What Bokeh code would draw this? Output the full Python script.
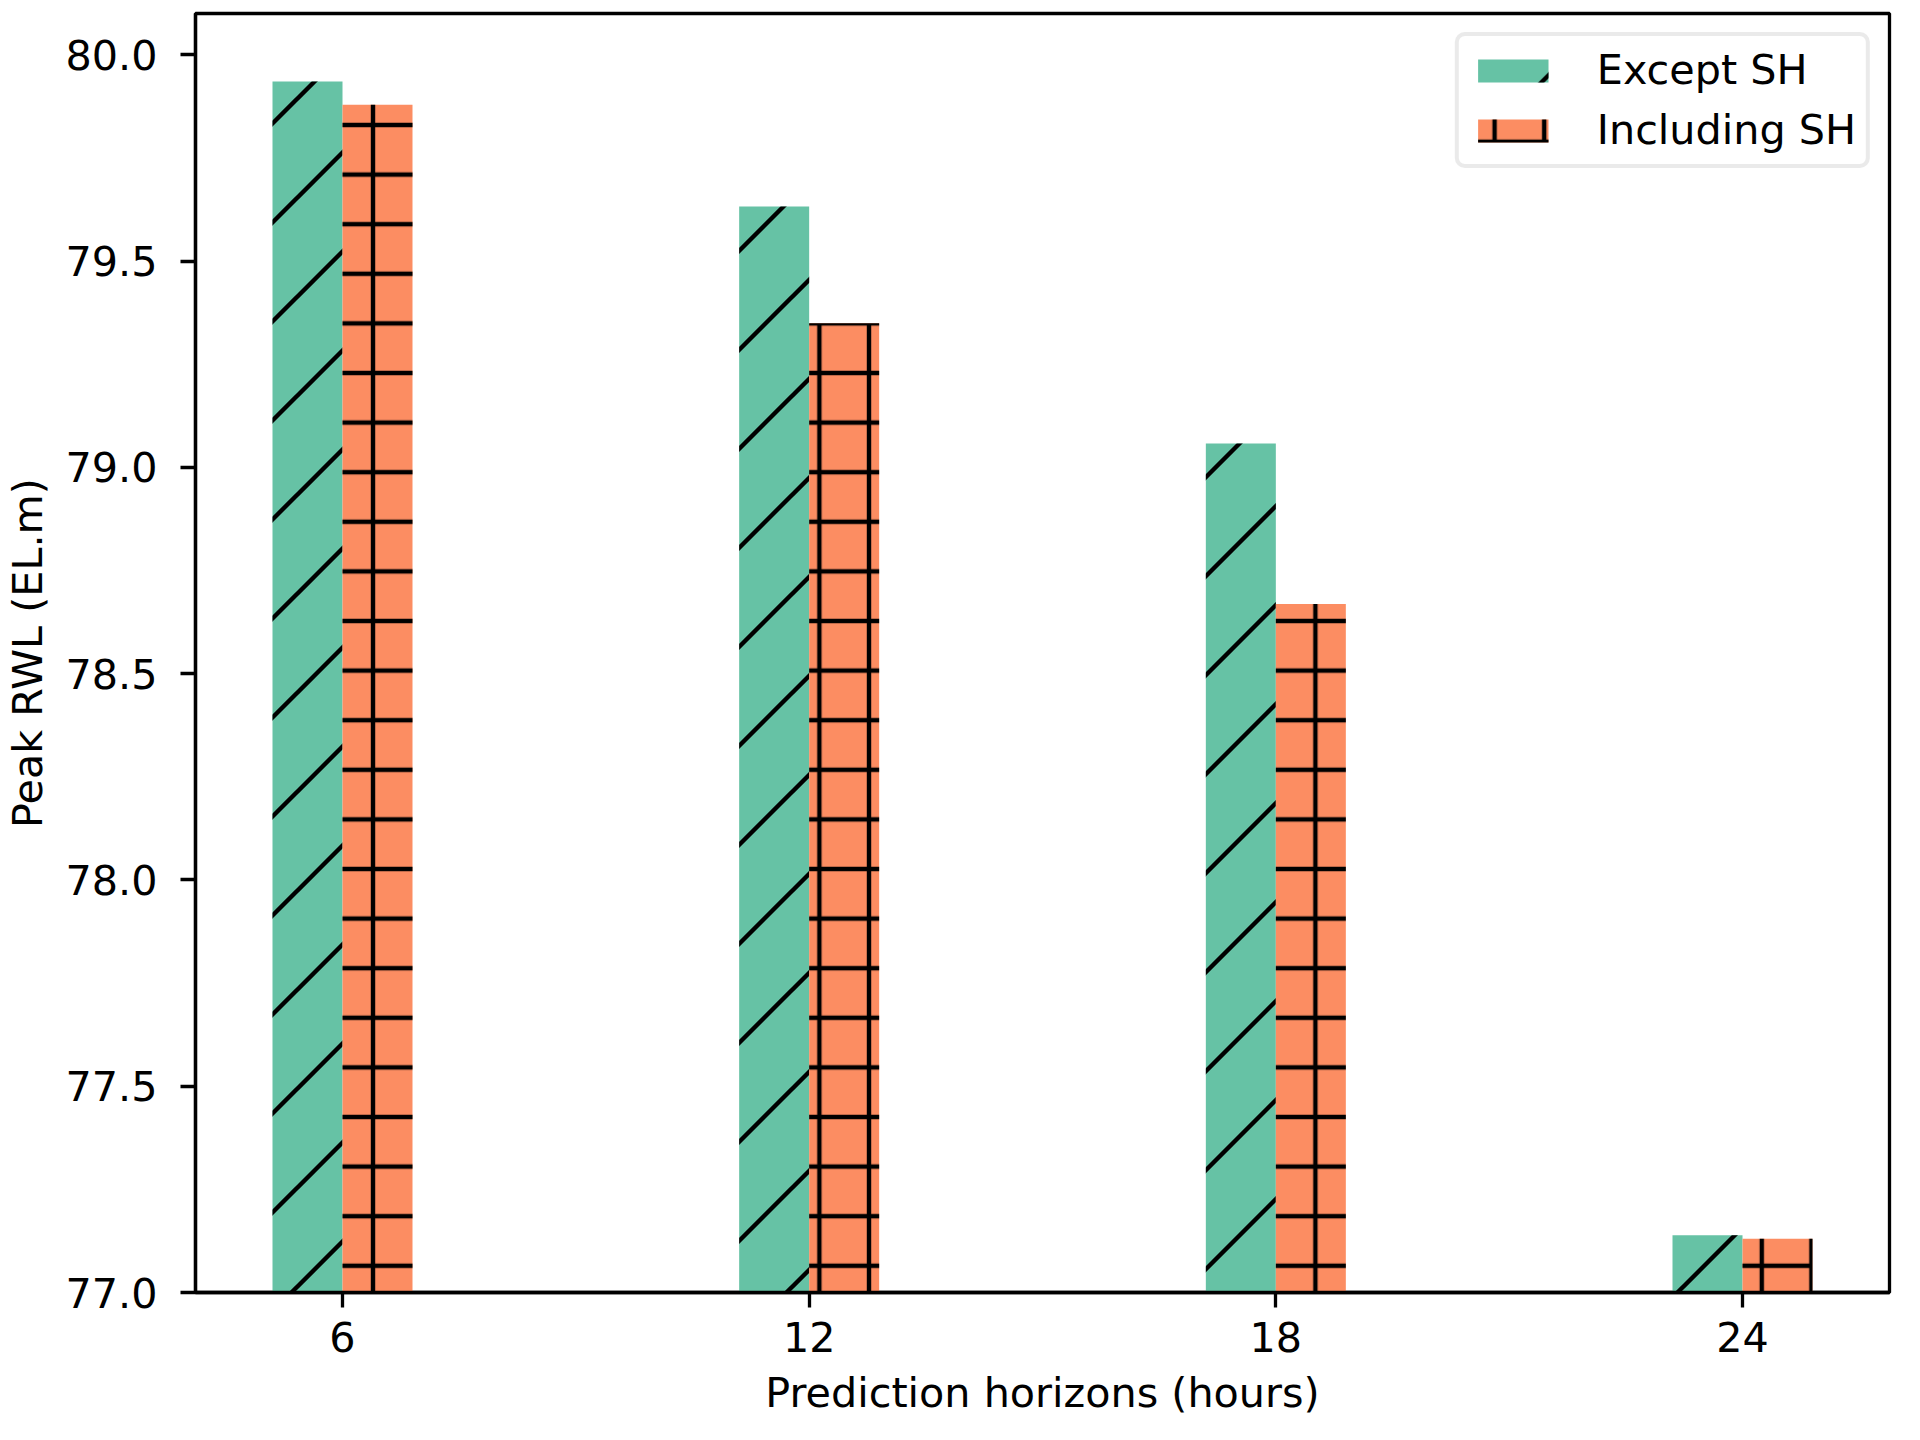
import base64
from bokeh.plotting import figure
from bokeh.models import (FixedTicker, Range1d, Legend, LegendItem,
                          ColumnDataSource, PrintfTickFormatter, ImageURLTexture)
from bokeh.core.properties import value
from bokeh.embed import file_html
from bokeh.resources import INLINE

# ---- data ----
horizons = ["6", "12", "18", "24"]
except_sh = [79.935, 79.632, 79.058, 77.139]
including_sh = [79.879, 79.349, 78.669, 77.130]
y_ticks = [77.0, 77.5, 78.0, 78.5, 79.0, 79.5, 80.0]
series_names = ["Except SH", "Including SH"]

FONT = "DejaVu Sans"
FS = "41.3px"
GREEN = "#66c2a5"
ORANGE = "#fc8d62"
HW = 4.4

# 45-degree "/" hatch tile as an SVG image texture
T = 99
tile_svg = (
    f'<svg xmlns="http://www.w3.org/2000/svg" width="{T}" height="{T}" '
    f'viewBox="0 0 {T} {T}"><path d="M0 {T}L{T} 0M{-T} {T}L{T} {-T}'
    f'M0 {2*T}L{2*T} 0" stroke="black" stroke-width="{HW}" fill="none"/></svg>'
)
tile_url = "data:image/svg+xml;base64," + base64.b64encode(tile_svg.encode()).decode()
diag_tex = ImageURLTexture(url=tile_url, repetition="repeat")

idx = list(range(len(horizons)))
bar_w = 0.15
src_a = ColumnDataSource(dict(x=[i - bar_w / 2 for i in idx], top=except_sh))
src_b = ColumnDataSource(dict(x=[i + bar_w / 2 for i in idx], top=including_sh))

p = figure(width=1904, height=1424, output_backend="svg", toolbar_location=None,
           x_range=Range1d(-0.315, 3.315), y_range=Range1d(77.0, 80.1),
           min_border_left=190, min_border_right=15, min_border_top=13,
           min_border_bottom=132)

r_a = p.vbar(x="x", top="top", bottom=0, width=bar_w, source=src_a,
             fill_color=GREEN, line_color=None,
             hatch_pattern=value("diag"), hatch_extra={"diag": diag_tex},
             hatch_color="black", hatch_weight=HW, hatch_scale=T)
r_b = p.vbar(x="x", top="top", bottom=0, width=bar_w, source=src_b,
             fill_color=ORANGE, line_color=None,
             hatch_pattern="+", hatch_color="black", hatch_weight=HW,
             hatch_scale=49.6)

p.xgrid.visible = False
p.ygrid.visible = False
p.background_fill_color = "white"
p.border_fill_color = "white"
p.outline_line_color = "black"
p.outline_line_width = 3.3
p.outline_line_alpha = 1.0

p.xaxis.ticker = FixedTicker(ticks=idx)
p.xaxis.major_label_overrides = {i: h for i, h in zip(idx, horizons)}
p.yaxis.ticker = FixedTicker(ticks=y_ticks)
p.yaxis.formatter = PrintfTickFormatter(format="%.1f")

for ax in (p.xaxis[0], p.yaxis[0]):
    ax.axis_line_width = 3.3
    ax.axis_line_color = "black"
    ax.major_tick_line_width = 3.3
    ax.major_tick_line_color = "black"
    ax.major_tick_out = 15
    ax.major_tick_in = 0
    ax.minor_tick_line_color = None
    ax.major_label_text_font = FONT
    ax.major_label_text_font_size = FS
    ax.major_label_text_color = "black"
    ax.axis_label_text_font = FONT
    ax.axis_label_text_font_size = FS
    ax.axis_label_text_font_style = "normal"
    ax.axis_label_text_color = "black"

p.xaxis.major_label_standoff = 14
p.yaxis.major_label_standoff = 23
p.xaxis.axis_label = "Prediction horizons (hours)"
p.yaxis.axis_label = "Peak RWL (EL.m)"
p.xaxis.axis_label_standoff = 14
p.yaxis.axis_label_standoff = 11

legend = Legend(items=[LegendItem(label=series_names[0], renderers=[r_a]),
                       LegendItem(label=series_names[1], renderers=[r_b])],
                location="top_right")
legend.label_text_font = FONT
legend.label_text_font_size = FS
legend.label_text_color = "black"
legend.glyph_width = 88
legend.glyph_height = 29
legend.label_standoff = 40
legend.spacing = 12
legend.padding = 10
legend.margin = 19
legend.border_line_color = "#d6d6d6"
legend.border_line_width = 4
legend.background_fill_alpha = 0.8
if "border_radius" in Legend.properties():
    legend.border_radius = 10
p.add_layout(legend)

open("out.html", "w").write(file_html(p, INLINE))
